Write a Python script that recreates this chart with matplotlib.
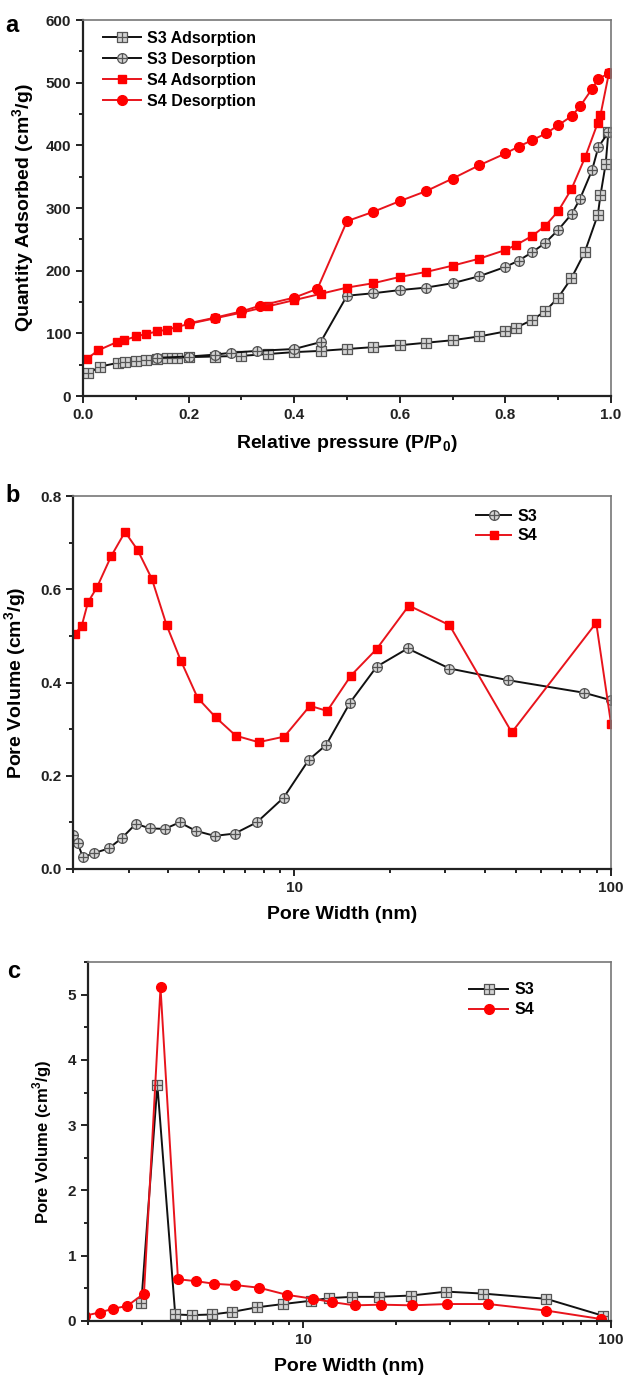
import matplotlib
matplotlib.use("Agg")
import matplotlib.pyplot as plt
from matplotlib.path import Path
from matplotlib.ticker import MultipleLocator, LogLocator, NullFormatter, FixedLocator, FixedFormatter
import numpy as np

plt.rcParams['font.family'] = ['Liberation Sans', 'DejaVu Sans']
plt.rcParams['font.weight'] = 'bold'
plt.rcParams['mathtext.fontset'] = 'custom'
plt.rcParams['mathtext.rm'] = 'Liberation Sans:bold'
plt.rcParams['mathtext.bf'] = 'Liberation Sans:bold'

# ---- panel a: isotherms ----
s3_ads_p = [0.01, 0.032, 0.067, 0.08, 0.10, 0.12, 0.14, 0.16, 0.178, 0.20, 0.25, 0.30, 0.35,
            0.40, 0.45, 0.50, 0.55, 0.60, 0.65, 0.70, 0.75, 0.80, 0.82, 0.85, 0.875, 0.90,
            0.925, 0.95, 0.975, 0.98, 0.99, 0.995]
s3_ads_q = [36, 47, 53, 54, 56, 57, 59, 60, 61, 62, 63, 64, 67, 70, 72, 75, 78, 81, 85, 89,
            95, 103, 109, 121, 135, 157, 188, 229, 289, 320, 371, 421]

s3_des_p = [0.995, 0.976, 0.964, 0.941, 0.926, 0.90, 0.875, 0.85, 0.825, 0.80, 0.75, 0.70,
            0.65, 0.60, 0.55, 0.50, 0.45, 0.40, 0.33, 0.28, 0.25, 0.20, 0.14]
s3_des_q = [421, 397, 360, 314, 291, 265, 244, 229, 216, 206, 191, 180, 173, 169, 164, 160,
            86, 75, 72, 69, 66, 63, 61]

s4_ads_p = [0.007, 0.029, 0.064, 0.078, 0.10, 0.12, 0.14, 0.16, 0.178, 0.20, 0.25, 0.30,
            0.35, 0.40, 0.45, 0.50, 0.55, 0.60, 0.65, 0.70, 0.75, 0.80, 0.82, 0.85, 0.875,
            0.90, 0.925, 0.951, 0.975, 0.98, 0.996]
s4_ads_q = [59, 73, 86, 89, 95, 99, 103, 106, 110, 115, 124, 133, 143, 153, 163, 173, 180,
            190, 198, 208, 219, 233, 241, 255, 271, 295, 330, 381, 436, 448, 515]

s4_des_p = [0.996, 0.976, 0.964, 0.942, 0.926, 0.90, 0.877, 0.85, 0.825, 0.80, 0.75, 0.70,
            0.65, 0.60, 0.55, 0.50, 0.444, 0.40, 0.335, 0.30, 0.25, 0.20]
s4_des_q = [515, 506, 490, 463, 447, 432, 419, 408, 398, 387, 368, 347, 327, 311, 294, 279,
            171, 157, 144, 135, 125, 116]

# ---- panel b: pore size distribution ----
b_s3_w = [2.0, 2.07, 2.15, 2.33, 2.59, 2.85, 3.16, 3.50, 3.90, 4.34, 4.88, 5.60, 6.48, 7.61,
          9.25, 11.1, 12.6, 15.0, 18.2, 22.8, 30.9, 47.3, 82.2, 100]
b_s3_v = [0.073, 0.055, 0.025, 0.034, 0.044, 0.066, 0.097, 0.087, 0.086, 0.100, 0.082, 0.071,
          0.076, 0.100, 0.153, 0.234, 0.266, 0.357, 0.434, 0.473, 0.430, 0.405, 0.378, 0.362]

b_s4_w = [2.03, 2.13, 2.23, 2.38, 2.64, 2.92, 3.20, 3.55, 3.95, 4.38, 4.95, 5.65, 6.53, 7.71,
          9.30, 11.2, 12.7, 15.1, 18.2, 23.0, 30.9, 48.6, 89.8, 100]
b_s4_v = [0.505, 0.521, 0.572, 0.604, 0.671, 0.723, 0.684, 0.622, 0.523, 0.447, 0.367, 0.325,
          0.286, 0.272, 0.284, 0.350, 0.339, 0.415, 0.472, 0.565, 0.523, 0.293, 0.528, 0.312]

# ---- panel c ----
c_s3_w = [2.98, 3.36, 3.84, 4.35, 5.06, 5.89, 7.09, 8.61, 10.6, 12.1, 14.4, 17.6, 22.4, 29.2,
          38.4, 61.6, 94.2]
c_s3_v = [0.28, 3.62, 0.10, 0.09, 0.10, 0.14, 0.21, 0.26, 0.31, 0.35, 0.37, 0.37, 0.39, 0.45,
          0.42, 0.34, 0.08]

c_s4_w = [1.95, 2.18, 2.42, 2.68, 3.04, 3.44, 3.92, 4.49, 5.15, 6.02, 7.19, 8.87, 10.8, 12.4,
          14.7, 17.9, 22.6, 29.4, 39.9, 61.6, 92.9]
c_s4_v = [0.08, 0.13, 0.19, 0.23, 0.42, 5.11, 0.64, 0.61, 0.57, 0.55, 0.51, 0.40, 0.34, 0.29,
          0.24, 0.25, 0.24, 0.26, 0.26, 0.16, 0.03]


def cross_marker(base):
    # outline shape with a plus inside (like Origin's crossed symbols)
    v = [[-1, 0], [1, 0], [0, -1], [0, 1]]
    c = [Path.MOVETO, Path.LINETO, Path.MOVETO, Path.LINETO]
    return Path.make_compound_path(base, Path(v, c))


sq = Path([[-1, -1], [1, -1], [1, 1], [-1, 1], [-1, -1]],
          [Path.MOVETO, Path.LINETO, Path.LINETO, Path.LINETO, Path.CLOSEPOLY])
SQX = cross_marker(sq)
CIRX = cross_marker(Path.unit_circle())

RED = '#e8141c'
BLK = '#111111'
gray_kw = dict(mfc='#d4d4d4', mec='#555555', mew=0.9)
red_kw = dict(mfc='#ff0000', mec='#ff0000')


def style_axes(ax):
    for s in ['left', 'bottom']:
        ax.spines[s].set_linewidth(1.6)
        ax.spines[s].set_color('#222222')
    for s in ['top', 'right']:
        ax.spines[s].set_linewidth(1.2)
        ax.spines[s].set_color('#777777')
    ax.tick_params(which='both', direction='out', top=False, right=False,
                   width=1.4, colors='#222222', labelsize=11)
    ax.tick_params(which='major', length=5)
    ax.tick_params(which='minor', length=3)


fig = plt.figure(figsize=(6.24, 13.81), dpi=100)

# panel a
ax1 = fig.add_axes([83 / 624, 1 - 396 / 1381, 528 / 624, 376 / 1381])
ax1.plot(s3_ads_p, s3_ads_q, '-', color=BLK, lw=1.4, marker=SQX, ms=7, label='S3 Adsorption', **gray_kw)
ax1.plot(s3_des_p, s3_des_q, '-', color=BLK, lw=1.4, marker=CIRX, ms=7, label='S3 Desorption', **gray_kw)
ax1.plot(s4_ads_p, s4_ads_q, '-', color=RED, lw=1.4, marker='s', ms=6, label='S4 Adsorption', **red_kw)
ax1.plot(s4_des_p, s4_des_q, '-', color=RED, lw=1.4, marker='o', ms=7, label='S4 Desorption', **red_kw)
ax1.set_xlim(0, 1.0)
ax1.set_ylim(0, 600)
ax1.xaxis.set_major_locator(MultipleLocator(0.2))
ax1.xaxis.set_minor_locator(MultipleLocator(0.1))
ax1.yaxis.set_major_locator(MultipleLocator(100))
ax1.yaxis.set_minor_locator(MultipleLocator(50))
ax1.xaxis.set_major_formatter(matplotlib.ticker.FormatStrFormatter('%.1f'))
style_axes(ax1)
ax1.set_xlabel(r'Relative pressure (P/P$_\mathbf{0}$)', fontsize=14, fontweight='bold', labelpad=8)
ax1.set_ylabel(r'Quantity Adsorbed (cm$^\mathbf{3}$/g)', fontsize=14, fontweight='bold', labelpad=6)
ax1.legend(loc='upper left', frameon=False, fontsize=11.5, handlelength=2.4,
           bbox_to_anchor=(0.01, 1.01), labelspacing=0.38, handletextpad=0.4)
fig.text(0.008, 1 - 26 / 1381, 'a', fontsize=17, fontweight='bold', va='center')

# panel b
ax2 = fig.add_axes([73 / 624, 1 - 869 / 1381, 538 / 624, 373 / 1381])
ax2.plot(b_s3_w, b_s3_v, '-', color=BLK, lw=1.4, marker=CIRX, ms=7, label='S3', **gray_kw)
ax2.plot(b_s4_w, b_s4_v, '-', color=RED, lw=1.4, marker='s', ms=6, label='S4', **red_kw)
ax2.set_xscale('log')
ax2.set_xlim(2, 100)
ax2.set_ylim(0, 0.8)
ax2.xaxis.set_major_locator(FixedLocator([10, 100]))
ax2.xaxis.set_major_formatter(FixedFormatter(['10', '100']))
ax2.xaxis.set_minor_locator(LogLocator(base=10, subs=np.arange(2, 10)))
ax2.xaxis.set_minor_formatter(NullFormatter())
ax2.yaxis.set_major_locator(MultipleLocator(0.2))
ax2.yaxis.set_minor_locator(MultipleLocator(0.1))
ax2.yaxis.set_major_formatter(matplotlib.ticker.FormatStrFormatter('%.1f'))
style_axes(ax2)
ax2.set_xlabel('Pore Width (nm)', fontsize=14, fontweight='bold', labelpad=8)
ax2.set_ylabel(r'Pore Volume (cm$^\mathbf{3}$/g)', fontsize=14, fontweight='bold', labelpad=8)
ax2.legend(loc='upper right', frameon=False, fontsize=11.5, handlelength=2.2,
           bbox_to_anchor=(0.89, 1.005), labelspacing=0.3, handletextpad=0.4)
fig.text(0.008, 1 - 496 / 1381, 'b', fontsize=17, fontweight='bold', va='center')

# panel c
ax3 = fig.add_axes([88 / 624, 1 - 1321 / 1381, 523 / 624, 359 / 1381])
ax3.plot(c_s3_w, c_s3_v, '-', color=BLK, lw=1.4, marker=SQX, ms=7, label='S3', **gray_kw)
ax3.plot(c_s4_w, c_s4_v, '-', color=RED, lw=1.4, marker='o', ms=7, label='S4', **red_kw)
ax3.set_xscale('log')
ax3.set_xlim(2, 100)
ax3.set_ylim(0, 5.5)
ax3.xaxis.set_major_locator(FixedLocator([10, 100]))
ax3.xaxis.set_major_formatter(FixedFormatter(['10', '100']))
ax3.xaxis.set_minor_locator(LogLocator(base=10, subs=np.arange(2, 10)))
ax3.xaxis.set_minor_formatter(NullFormatter())
ax3.yaxis.set_major_locator(MultipleLocator(1))
ax3.yaxis.set_minor_locator(MultipleLocator(0.5))
style_axes(ax3)
ax3.set_xlabel('Pore Width (nm)', fontsize=14, fontweight='bold', labelpad=8)
ax3.set_ylabel(r'Pore Volume (cm$^\mathbf{3}$/g)', fontsize=12, fontweight='bold', labelpad=10)
ax3.legend(loc='upper right', frameon=False, fontsize=11.5, handlelength=2.4,
           bbox_to_anchor=(0.88, 0.983), labelspacing=0.3, handletextpad=0.4)
fig.text(0.012, 1 - 972 / 1381, 'c', fontsize=17, fontweight='bold', va='center')

fig.savefig('out.png', dpi=100)
